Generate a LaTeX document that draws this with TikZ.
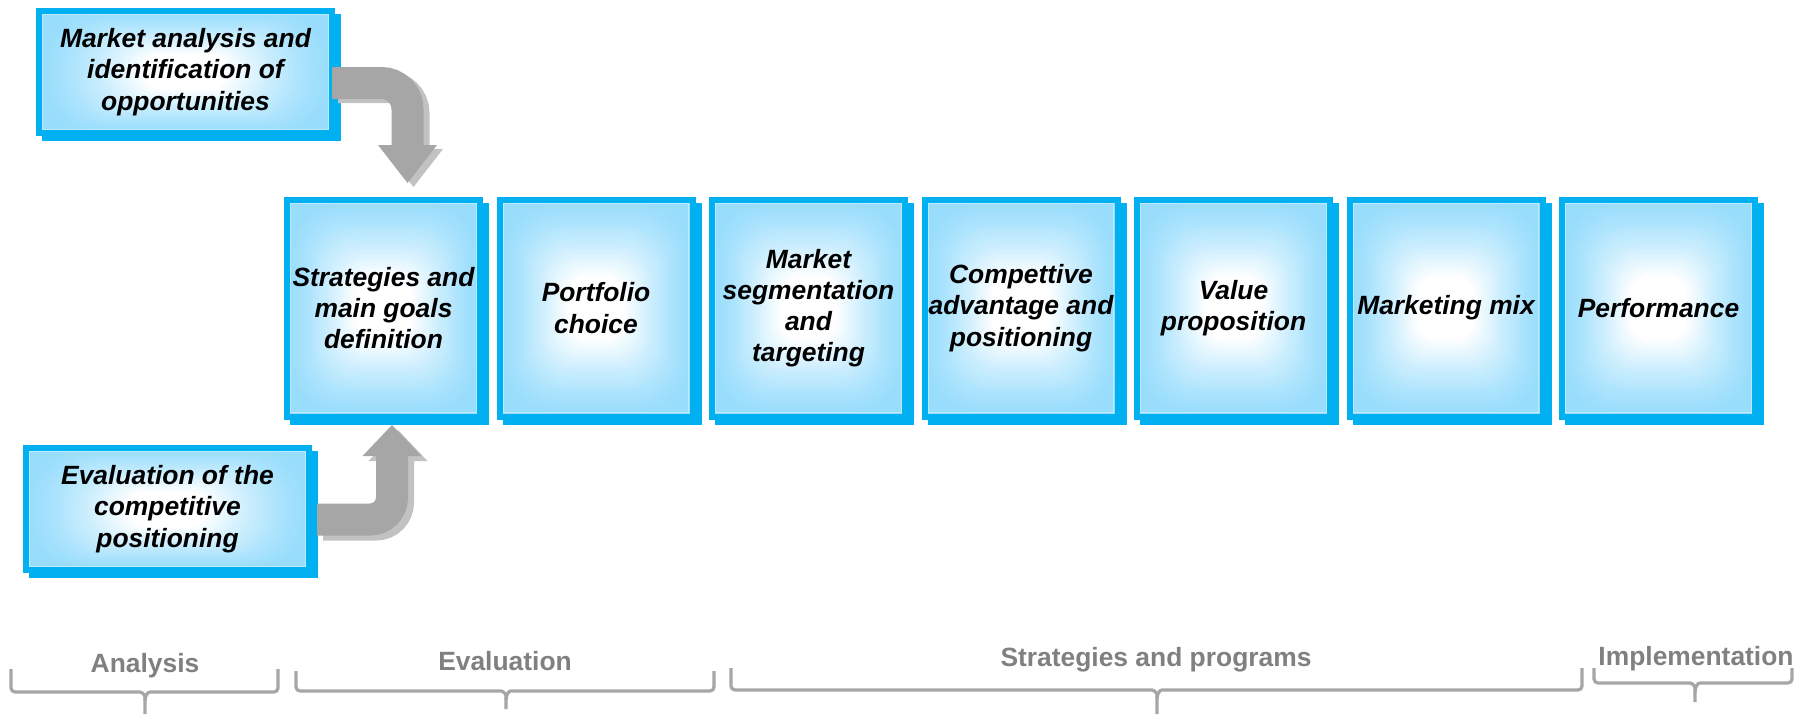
\documentclass[tikz,border=0pt]{standalone}
\usepackage{fontspec}
\setmainfont{Liberation Sans}
\usetikzlibrary{calc,arrows.meta,backgrounds}

\definecolor{frameblue}{RGB}{0,176,240}
\definecolor{edgeblue}{RGB}{153,221,252}
\definecolor{rimblue}{RGB}{190,234,253}
\definecolor{arrowgray}{RGB}{166,166,166}
\definecolor{arrowshade}{RGB}{194,194,194}
\definecolor{bracegray}{RGB}{166,166,166}
\definecolor{labelgray}{RGB}{128,128,128}

% number of nested rectangles in the box gradient
\newcommand\gradsteps{30}

% brace under a group of stages: left x, right x, centre x, top of ends, bar, tip
\newcommand\phasebrace[6]{%
  \draw[phase] (#1,#4) -- (#1,#5) -- (#3-9,#5)
    .. controls (#3-3,#5) and (#3,#5+3) .. (#3,#5+9) -- (#3,#6);
  \draw[phase] (#2,#4) -- (#2,#5) -- (#3+9,#5)
    .. controls (#3+3,#5) and (#3,#5+3) .. (#3,#5+9);
}

\tikzset{
  gradbox/.style={rectangle, draw=frameblue, line width=3pt, inner sep=0pt,
    outer sep=0pt, align=center,
    font=\fontsize{13.2pt}{15.6pt}\selectfont\bfseries\itshape,
    path picture={
      \fill[edgeblue] (path picture bounding box.south west)
        rectangle (path picture bounding box.north east);
      \foreach \k in {1,...,\gradsteps}{
        \pgfmathsetmacro\gs{1-\k/\gradsteps}
        \pgfmathsetmacro\gt{min(1,\k/(0.7*\gradsteps))}
        \pgfmathsetmacro\gw{100*\gt^1.3}
        \pgfmathsetmacro\gr{4+22*\gs}
        \fill[white!\gw!edgeblue, rounded corners=\gr pt]
          ($(path picture bounding box.center)!\gs!(path picture bounding box.south west)$)
          rectangle
          ($(path picture bounding box.center)!\gs!(path picture bounding box.north east)$);
      }
      \draw[rimblue, line width=0.6pt]
        ([shift={(1.9pt,1.9pt)}]path picture bounding box.south west)
        rectangle ([shift={(-1.9pt,-1.9pt)}]path picture bounding box.north east);
    }},
  stagebox/.style={gradbox, minimum width=96.5pt, minimum height=108.5pt},
  inputbox/.style={gradbox, minimum height=61pt},
  boxshadow/.style={fill=frameblue},
  bentarrow/.style={line width=16pt, arrowgray},
  bentshade/.style={line width=16pt, arrowshade},
  phase/.style={bracegray, line width=1.6pt, rounded corners=2pt},
  phaselabel/.style={labelgray, font=\fontsize{13.2pt}{15.6pt}\selectfont\bfseries,
    anchor=base, inner sep=0pt},
}

\begin{document}
\begin{tikzpicture}[x=0.5pt, y=-0.5pt]
\useasboundingbox (0,0) rectangle (1802,714);
\begin{scope}[on background layer]
  \fill[white] (0,0) rectangle (1802,714);
\end{scope}

% input boxes
\node[inputbox, minimum width=146.5pt] (mkt) at (185.5,72)
  {Market analysis and\\identification of\\opportunities};
\node[inputbox, minimum width=141.5pt] (evalpos) at (167.5,509)
  {Evaluation of the\\competitive\\positioning};

% process stages
\node[stagebox] (s1) at (383.5,308) {Strategies and\\main goals\\definition};
\node[stagebox] (s2) at (596,308)   {Portfolio\\choice};
\node[stagebox] (s3) at (808.5,308) {Market\\segmentation\\and\\targeting};
\node[stagebox] (s4) at (1021,308)  {Compettive\\advantage and\\positioning};
\node[stagebox] (s5) at (1233.5,308){Value\\proposition};
\node[stagebox] (s6) at (1446,308)  {Marketing mix};
\node[stagebox] (s7) at (1658.5,308){Performance};

% offset shadows behind every box
\begin{scope}[on background layer]
  \foreach \b in {mkt,evalpos,s1,s2,s3,s4,s5,s6,s7}
    \fill[boxshadow] ([shift={(3,3)}]\b.north west) rectangle ([shift={(9,8)}]\b.south east);
\end{scope}

% bent block arrows into the first stage
\draw[bentshade, rounded corners=13pt,
      -{Triangle[width=29.5pt,length=19pt,line width=0pt]},
      transform canvas={xshift=3pt,yshift=-2pt}]
  ([shift={(0,11)}]mkt.east) -| ([shift={(24,-16.5)}]s1.north);
\draw[bentarrow, rounded corners=13pt,
      -{Triangle[width=29.5pt,length=19pt,line width=0pt]}]
  ([shift={(0,11)}]mkt.east) -| ([shift={(24,-16.5)}]s1.north);

\draw[bentshade, rounded corners=11pt,
      -{Triangle[width=29.5pt,length=15.5pt,line width=0pt]},
      transform canvas={xshift=3pt,yshift=-2.5pt}]
  ([shift={(8,10.5)}]evalpos.east) -| ([shift={(8.5,8.5)}]s1.south);
\draw[bentarrow, rounded corners=11pt,
      -{Triangle[width=29.5pt,length=15.5pt,line width=0pt]}]
  ([shift={(8,10.5)}]evalpos.east) -| ([shift={(8.5,8.5)}]s1.south);

% phases
\phasebrace{11}{278}{145}{669}{692}{714}
\phasebrace{296}{714}{506}{671}{691}{709}
\phasebrace{731}{1582}{1157}{668}{690}{714}
\phasebrace{1594}{1792}{1695}{668}{683}{702}

\node[phaselabel] (lanalysis) at (145,672) {Analysis};
\node[phaselabel] (levaluation) at (505,670) {Evaluation};
\node[phaselabel] (lstrategies) at (1156,666) {Strategies and programs};
\node[phaselabel] (limplementation) at (1696,665) {Implementation};
\end{tikzpicture}
\end{document}
